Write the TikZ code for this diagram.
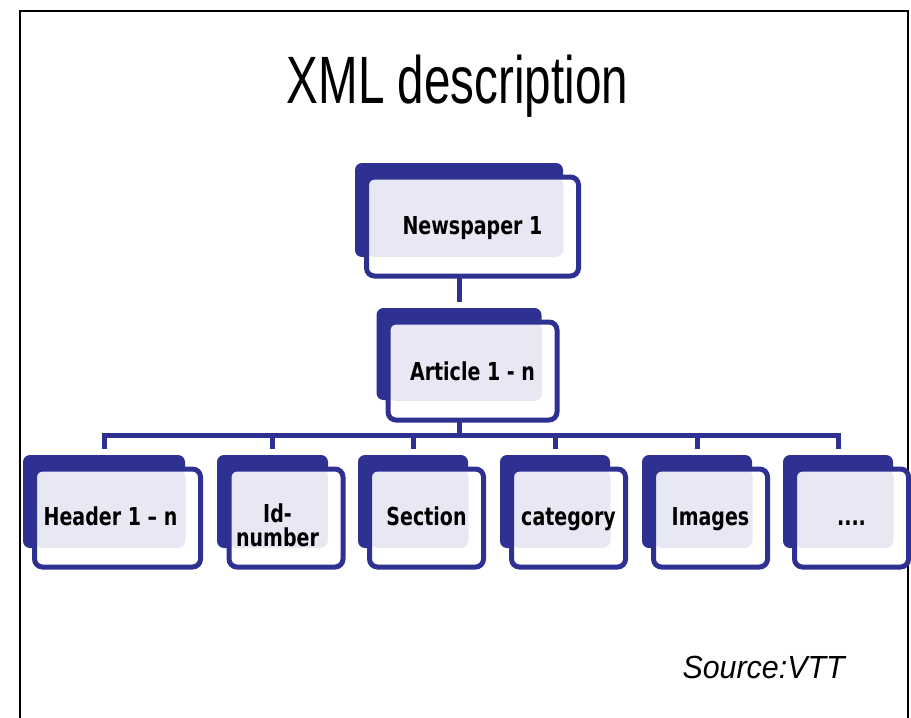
\documentclass[tikz,border=0pt]{standalone}
\usepackage{fontspec}
\usetikzlibrary{backgrounds}
\newfontfamily\boxfont[FakeStretch=0.77]{DejaVu Sans}
\newfontfamily\titlefont[FakeStretch=0.71]{Liberation Sans}
\newfontfamily\srcfont[FakeStretch=0.95]{Liberation Sans}
\definecolor{navy}{RGB}{46,49,146}
\definecolor{lav}{RGB}{232,232,244}
\begin{document}
\begin{tikzpicture}[x=1pt,y=-1pt]
                        \tikzstyle{tile}=[fill=navy, rounded corners=7pt, inner sep=0pt,
                            minimum width=110pt, minimum height=93pt]
                        \tikzstyle{card}=[draw=navy, line width=5pt, fill=white, rounded corners=8pt,
                            inner sep=0pt, minimum width=114pt, minimum height=98pt,
                            text height=20pt, text depth=5pt,
                            font=\boxfont\bfseries\fontsize{24.7}{23}\selectfont,
                            path picture={\fill[lav] (path picture bounding box.north west)
                                rectangle ([shift={(-15pt,19pt)}]path picture bounding box.south east);}]
                        \tikzstyle{link}=[draw=navy, line width=5pt]
                        \useasboundingbox (0,0) rectangle (911,718);
                        % frame
                        \draw[line width=2.5pt] (20,718) -- (20,11) -- (908,11) -- (908,718);
                        \node[anchor=base, font=\titlefont\fontsize{67}{70}\selectfont] (title) at (457.5,103) {XML description};
                        % root
                        \node[tile, minimum width=208pt, minimum height=94pt] (news-b) at (459,210) {};
                        \node[card, minimum width=212pt, minimum height=99pt] (news) at ([shift={(13.5,16.5)}]news-b.center) {Newspaper 1};
                        \node[tile, minimum width=165pt, minimum height=92pt] (art-b) at (459,354) {};
                        \node[card, minimum width=169pt, minimum height=98pt] (art) at ([shift={(13.5,17)}]art-b.center) {\raisebox{-2pt}{Article 1 - n}};
                        % children
                        \node[tile, minimum width=162pt] (hdr-b) at (104,501.5) {};
                        \node[card, minimum width=166pt] (hdr) at ([shift={(13.5,16.5)}]hdr-b.center) {Header 1 – n\kern14pt};
                        \node[tile, minimum width=111pt] (id-b) at (272.5,501.5) {};
                        \node[card] (id) at ([shift={(13.5,16.5)}]id-b.center)
                            {\raisebox{3pt}{\begin{tabular}[t]{@{}c@{}}Id-\\[-2pt]number\end{tabular}}\kern17pt};
                        \node[tile] (sec-b) at (413,501.5) {};
                        \node[card] (sec) at ([shift={(13.5,16.5)}]sec-b.center) {Section};
                        \node[tile] (cat-b) at (555,501.5) {};
                        \node[card] (cat) at ([shift={(13.5,16.5)}]cat-b.center) {category};
                        \node[tile] (img-b) at (697,501.5) {};
                        \node[card] (img) at ([shift={(13.5,16.5)}]img-b.center) {Images};
                        \node[tile] (dots-b) at (838,501.5) {};
                        \node[card] (dots) at ([shift={(13.5,16.5)}]dots-b.center) {....};
                        \node[anchor=base west, font=\srcfont\itshape\fontsize{32}{34}\selectfont] (src) at (679,678) {Source:VTT};
                        % connectors
                        \coordinate (bus) at (459,435);
                        \begin{scope}[on background layer]
                            \draw[link, shorten >=6pt] (news-b.south) -- (art-b.north);
                            \draw[link] (art-b.south) -- (art-b.south |- bus);
                            \draw[link, shorten <=6pt, shorten >=6pt] (hdr-b.north) |- (bus) -| (dots-b.north);
                            \foreach \n in {id,sec,cat,img}
                                \draw[link, shorten <=6pt] (\n-b.north) -- (\n-b.north |- bus);
                        \end{scope}
\end{tikzpicture}
\end{document}
